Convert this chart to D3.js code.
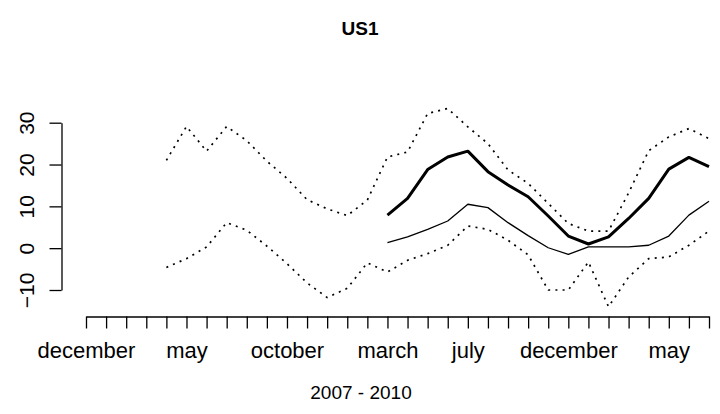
<!DOCTYPE html>
<html>
<head>
<meta charset="utf-8">
<script src="https://cdn.jsdelivr.net/npm/d3@7"></script>
<style>
  body { margin: 0; background: #fff; }
  svg { display: block; }
  text { font-family: "Liberation Sans", Arial, Helvetica, sans-serif; fill: #000; }
</style>
</head>
<body>
<svg id="chart" width="720" height="414"></svg>
<script>
// month ticks, december 2007 .. july 2010 (one tick per month)
const monthLabels = ["december", "january", "february", "march", "april", "may", "june", "july",
  "august", "september", "october", "november", "december", "january", "february", "march",
  "april", "may", "june", "july", "august", "september", "october", "november", "december",
  "january", "february", "march", "april", "may", "june", "july"];
const yTicks = [-10, 0, 10, 20, 30];

// dotted bands start at tick 4 (april 2008), solid lines at tick 15 (march 2009)
const bandStart = 4;
const upperBand = [21.0, 29.1, 23.2, 29.1, 25.7, 20.8, 16.7, 11.6, 9.4, 7.8, 11.5, 21.8, 23.0, 32.2,
  33.4, 29.0, 25.0, 18.7, 15.5, 10.7, 5.9, 4.1, 4.1, 13.2, 23.3, 26.6, 28.6, 26.2];
const lowerBand = [-4.6, -2.5, 0.3, 6.1, 4.3, 0.5, -3.7, -8.3, -11.8, -9.6, -3.5, -5.7, -2.9, -1.3,
  0.7, 5.3, 4.5, 1.9, -1.6, -10.0, -10.0, -3.3, -14.0, -6.9, -2.5, -2.1, 0.7, 4.1];
const lineStart = 15;
const thickLine = [7.9, 11.9, 18.8, 21.8, 23.2, 18.3, 15.1, 12.3, 7.7, 2.9, 1.0, 2.7, 7.1, 11.9, 18.9, 21.7, 19.5];
const thinLine = [1.3, 2.7, 4.5, 6.5, 10.5, 9.7, 6.1, 3.0, 0.1, -1.5, 0.3, 0.3, 0.3, 0.7, 2.9, 7.9, 11.2];

const title = "US1";
const xTitle = "2007 - 2010";

const svg = d3.select("#chart");
const fontSize = 22;

const x = d3.scaleLinear().domain([0, monthLabels.length - 1]).range([86, 709]);
const y = d3.scaleLinear().domain([-10, 30]).range([290, 122.7]);

const line = d3.line()
  .x(d => x(d.k))
  .y(d => y(d.v));

function toPoints(values, start) {
  return values.map((v, i) => ({ k: start + i, v: v }));
}

// lines
svg.append("path")
  .datum(toPoints(upperBand, bandStart))
  .attr("d", line)
  .attr("fill", "none")
  .attr("stroke", "#000")
  .attr("stroke-width", 1.7)
  .attr("stroke-dasharray", "2,5.2");

svg.append("path")
  .datum(toPoints(lowerBand, bandStart))
  .attr("d", line)
  .attr("fill", "none")
  .attr("stroke", "#000")
  .attr("stroke-width", 1.7)
  .attr("stroke-dasharray", "2,5.2");

svg.append("path")
  .datum(toPoints(thickLine, lineStart))
  .attr("d", line)
  .attr("fill", "none")
  .attr("stroke", "#000")
  .attr("stroke-width", 3)
  .attr("stroke-linejoin", "round");

svg.append("path")
  .datum(toPoints(thinLine, lineStart))
  .attr("d", line)
  .attr("fill", "none")
  .attr("stroke", "#000")
  .attr("stroke-width", 1.3)
  .attr("stroke-linejoin", "round");

// y axis (R style, rotated labels)
const yAxis = svg.append("g")
  .attr("transform", "translate(61.5,0)")
  .call(d3.axisLeft(y).tickValues(yTicks).tickSize(12).tickSizeOuter(0).tickPadding(0));
yAxis.select(".domain").attr("stroke-width", 1.3);
yAxis.selectAll(".tick line").attr("stroke-width", 1.3);
yAxis.selectAll(".tick text")
  .attr("font-size", 21)
  .attr("font-family", null)
  .attr("text-anchor", "middle")
  .attr("x", 0)
  .attr("dy", 0)
  .attr("transform", "translate(-28,0) rotate(-90)");

// x axis
const xAxis = svg.append("g")
  .attr("transform", "translate(0,316.5)")
  .call(d3.axisBottom(x).tickValues(d3.range(monthLabels.length)).tickSize(12).tickSizeOuter(0)
    .tickFormat(k => monthLabels[k]).tickPadding(14));
xAxis.select(".domain").attr("stroke-width", 1.3);
xAxis.selectAll(".tick line").attr("stroke-width", 1.3);
xAxis.selectAll(".tick text")
  .attr("font-size", fontSize)
  .attr("font-family", null);

// drop labels that would overlap the previous one (gap of one "m"), like R's axis()
const mWidth = (() => {
  const t = svg.append("text").attr("font-size", fontSize).text("m");
  const w = t.node().getComputedTextLength();
  t.remove();
  return w;
})();
let lastRight = -Infinity;
xAxis.selectAll(".tick text").each(function(k) {
  const w = this.getComputedTextLength();
  const left = x(k) - w / 2;
  if (left > lastRight + mWidth) {
    lastRight = x(k) + w / 2;
  } else {
    d3.select(this).remove();
  }
});

// titles
svg.append("text")
  .attr("x", 360)
  .attr("y", 35)
  .attr("text-anchor", "middle")
  .attr("font-size", 19)
  .attr("font-weight", "bold")
  .text(title);

svg.append("text")
  .attr("x", 361)
  .attr("y", 399)
  .attr("text-anchor", "middle")
  .attr("font-size", 19)
  .text(xTitle);
</script>
</body>
</html>
